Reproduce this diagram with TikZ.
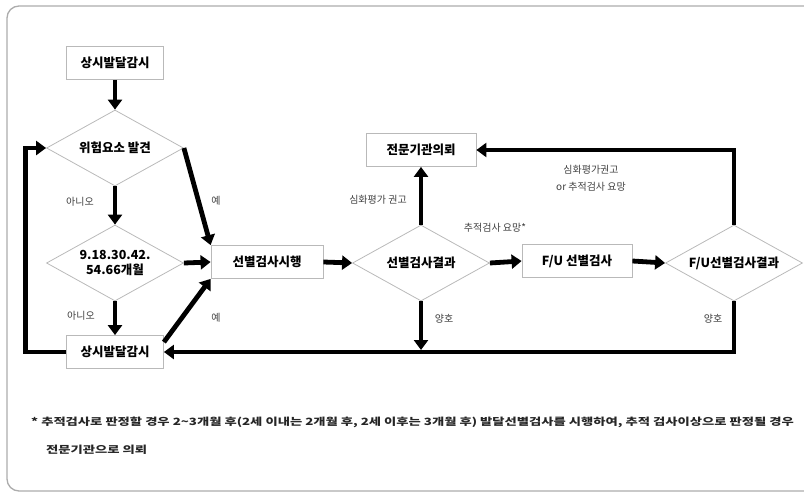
\documentclass[tikz,border=0pt]{standalone}
\usepackage{fontspec}
\setmainfont{Noto Sans CJK KR}
\usetikzlibrary{arrows.meta,shapes.geometric}

\begin{document}
\begin{tikzpicture}[x=1pt,y=-1pt,
  box/.style={draw=gray!55,line width=0.8pt,fill=white,minimum height=33pt,inner sep=2pt,font=\fontsize{12.5}{14}\selectfont\bfseries},
  test/.style={diamond,draw=gray!55,line width=0.8pt,shape aspect=1.8,inner sep=0pt,minimum width=137pt,minimum height=76pt,align=center,font=\fontsize{12.5}{15}\selectfont\bfseries},
  flow/.style={line width=4.8pt,-{Triangle[length=10pt,width=14pt]}},
  note/.style={font=\fontsize{10}{12}\selectfont,text=black!75},
  foot/.style={font=\fontsize{10}{12}\selectfont\bfseries,text=black!85,anchor=west,inner sep=0pt}]
  \useasboundingbox (0,0) rectangle (804,498);
  \draw[gray!65,line width=1.3pt,rounded corners=12pt] (7,6) rectangle (840,491);
  % boxes and decisions
  \node[box,minimum width=97pt] (top) at (115,63) {상시발달감시};
  \node[test] (risk) at (115,148) {위험요소 발견};
  \node[test] (age) at (115,263) {9.18.30.42.\\54.66개월};
  \node[box,minimum width=97pt] (watch) at (115,352) {상시발달감시};
  \node[box,minimum width=112pt] (exam) at (267,262) {선별검사시행};
  \node[test] (res) at (421,263) {선별검사결과};
  \node[box,minimum width=110pt] (refer) at (421,150) {전문기관의뢰};
  \node[box,minimum width=110pt] (fu) at (577,261) {F/U 선별검사};
  \node[test] (fures) at (734,263) {F/U선별검사결과};
  \coordinate (join) at (res.south |- watch.east);
  % connectors
  \draw[flow] (top) -- (risk.north);
  \draw[flow] (risk.south) -- (age.north);
  \draw[flow] (risk.east) -- (exam.north west);
  \draw[flow] (age.east) -- (exam.west);
  \draw[flow] (age.south) -- (watch.north);
  \draw[flow] ([yshift=-7pt]watch.north east) -- (exam.south west);
  \draw[flow] (watch.west) -| ([xshift=-21pt]risk.west) -- (risk.west);
  \draw[flow] (exam.east) -- (res.west);
  \draw[flow] (res.north) -- (refer.south);
  \draw[flow] (res.east) -- (fu.west);
  \draw[flow] (fu.east) -- (fures.west);
  \draw[flow] (fures.north) |- (refer.east);
  \draw[flow] (fures.south) |- (watch.east);
  \draw[flow,shorten >=2pt] (res.south) -- (join);
  % labels
  \node[note] (no1) at (80,202) {아니오};
  \node[note] (yes1) at (216,201) {예};
  \node[note] (no2) at (81,316) {아니오};
  \node[note] (yes2) at (216,318) {예};
  \node[note] (deep) at (378,200) {심화평가 권고};
  \node[note] (track) at (495,228) {추적검사 요망*};
  \node[note,align=center,font=\fontsize{10}{17}\selectfont] (deep2) at (591,178) {심화평가권고\\or 추적검사 요망};
  \node[note] (ok1) at (444,319) {양호};
  \node[note] (ok2) at (713,319) {양호};
  % footnote
  \node[foot] (fn1) at (31,422) {\scalebox{1.33}[1]{* 추적검사로 판정할 경우 2\textasciitilde3개월 후(2세 이내는 2개월 후, 2세 이후는 3개월 후) 발달선별검사를 시행하여, 추적 검사이상으로 판정될 경우}};
  \node[foot] (fn2) at (46,450) {\scalebox{1.33}[1]{전문기관으로 의뢰}};
\end{tikzpicture}
\end{document}
